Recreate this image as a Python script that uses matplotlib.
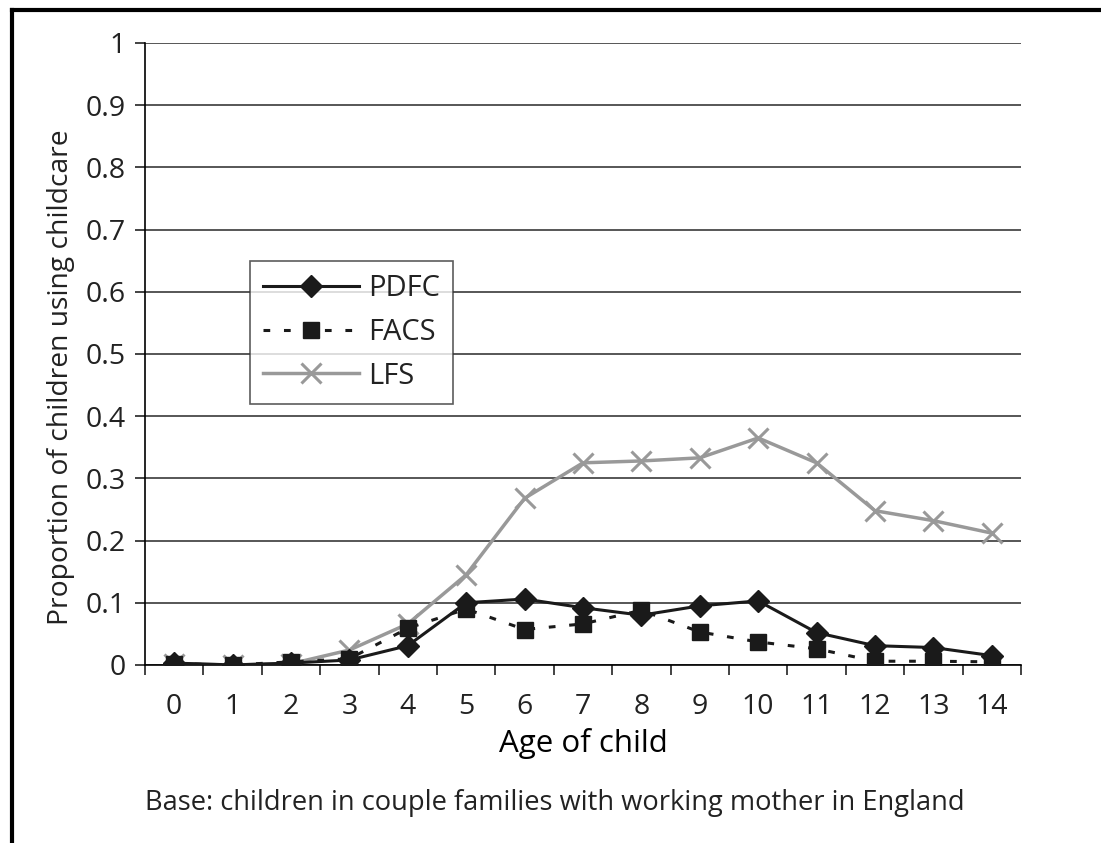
import matplotlib.pyplot as plt
import numpy as np
from matplotlib.lines import Line2D

plt.rcParams["font.family"] = ["Open Sans", "DejaVu Sans"]
plt.rcParams["font.size"] = 20
plt.rcParams["text.color"] = "#222222"
plt.rcParams["xtick.color"] = "#222222"
plt.rcParams["ytick.color"] = "#222222"

ages = list(range(15))
pdfc = [0.003, 0.0, 0.003, 0.008, 0.031, 0.100, 0.106, 0.092, 0.080, 0.095,
        0.103, 0.052, 0.031, 0.028, 0.015]
facs = [0.002, 0.0, 0.005, 0.010, 0.059, 0.090, 0.057, 0.066, 0.088, 0.053,
        0.037, 0.026, 0.006, 0.006, 0.005]
lfs = [0.002, 0.0, 0.002, 0.024, 0.066, 0.145, 0.268, 0.325, 0.328, 0.333,
       0.365, 0.325, 0.248, 0.232, 0.212]
yticks = [0, 0.1, 0.2, 0.3, 0.4, 0.5, 0.6, 0.7, 0.8, 0.9, 1]
ytick_labels = ["0", "0.1", "0.2", "0.3", "0.4", "0.5", "0.6", "0.7", "0.8", "0.9", "1"]

fig = plt.figure(figsize=(11.01, 8.43), dpi=100)
ax = fig.add_axes([0.1317, 0.2112, 0.7956, 0.7378])

for y in yticks:
    ax.axhline(y, color="#3a3a3a", lw=1.2, zorder=1)

ax.plot(ages, facs, color="#1a1a1a", lw=2.2, linestyle=(0, (2.2, 4.5)),
        marker="s", markersize=12, zorder=3)
ax.plot(ages, lfs, color="#999999", lw=2.5, marker="x", markersize=15,
        markeredgewidth=2.2, zorder=2)
ax.plot(ages, pdfc, color="#1a1a1a", lw=2.2, marker="D", markersize=11, zorder=4)

ax.set_xlim(-0.5, 14.5)
ax.set_ylim(0, 1)
ax.set_xticks(ages)
ax.set_xticklabels([str(a) for a in ages])
ax.set_xticks(np.arange(-0.5, 15, 1), minor=True)
ax.tick_params(axis="x", which="major", length=0, pad=20, labelsize=20.5)
ax.tick_params(axis="x", which="minor", length=7, width=1.2, direction="out")
ax.set_yticks(yticks)
ax.set_yticklabels(ytick_labels)
ax.tick_params(axis="y", length=7, width=1.2, direction="out", pad=7, labelsize=20.5)

for side in ["top", "right"]:
    ax.spines[side].set_visible(False)
ax.spines["left"].set_linewidth(1.2)
ax.spines["bottom"].set_linewidth(1.2)

ax.set_xlabel("Age of child", fontsize=22.5, labelpad=5)
fig.text(0.0555, 1 - 377 / 843, "Proportion of children using childcare",
         fontsize=20.3, rotation=90, ha="center", va="center")

handles = [
    Line2D([], [], color="#1a1a1a", lw=2.2, marker="D", markersize=11),
    Line2D([], [], color="#1a1a1a", lw=2.2, linestyle=(0, (2.2, 4.5)), marker="s", markersize=12),
    Line2D([], [], color="#999999", lw=2.5, marker="x", markersize=15, markeredgewidth=2.2),
]
leg = fig.legend(handles, ["PDFC", "FACS", "LFS"], loc="upper left",
                 bbox_to_anchor=(0.227, 0.690), frameon=True, fancybox=False,
                 handlelength=3.3, handletextpad=0.3, labelspacing=0.5,
                 borderpad=0.45, borderaxespad=0, fontsize=21)
leg.get_frame().set_edgecolor("#333333")
leg.get_frame().set_linewidth(1.2)

fig.text(0.1317, 0.039, "Base: children in couple families with working mother in England",
         fontsize=19.6, ha="left", va="baseline")

# outer border (left and top only, as cropped)
fig.add_artist(Line2D([0.0105, 0.0105], [0, 0.988], transform=fig.transFigure, color="black", lw=3))
fig.add_artist(Line2D([0.0105, 1.0], [0.988, 0.988], transform=fig.transFigure, color="black", lw=3))

fig.savefig("out.png", dpi=100)
